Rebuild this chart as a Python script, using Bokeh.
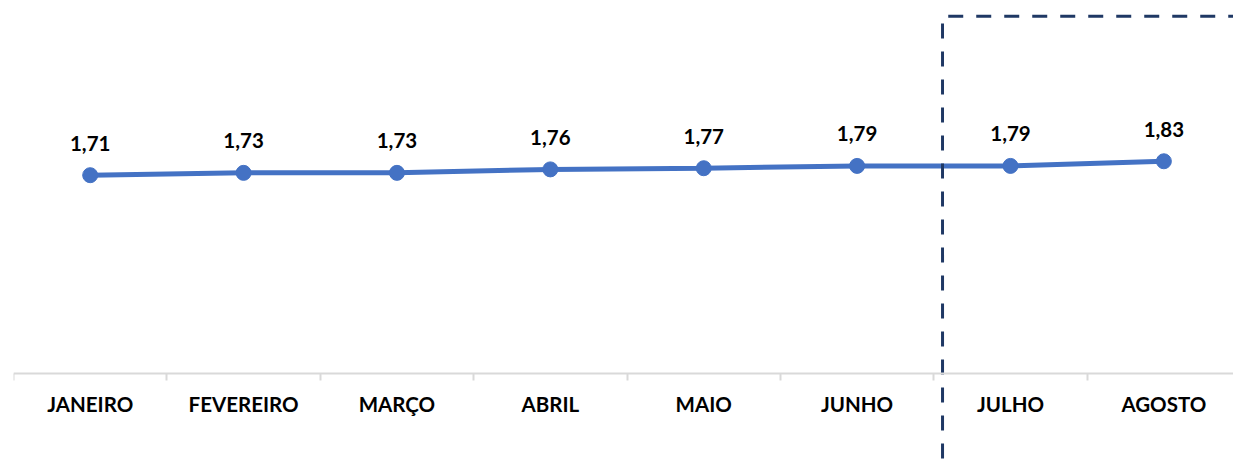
from bokeh.plotting import figure
from bokeh.models import FixedTicker, Range1d
from bokeh.core.properties import value
from bokeh.embed import file_html
from bokeh.resources import INLINE

months = ["JANEIRO", "FEVEREIRO", "MARÇO", "ABRIL", "MAIO", "JUNHO", "JULHO", "AGOSTO"]
values = [1.71, 1.73, 1.73, 1.76, 1.77, 1.79, 1.79, 1.83]
labels = [f"{v:.2f}".replace(".", ",") for v in values]
xs = list(range(len(months)))

BLUE = "#4472C4"
NAVY = "#1F3864"
GRAY = "#D9D9D9"

y_lo, y_hi = -0.810, 3.147
p = figure(width=1233, height=467,
           x_range=Range1d(-0.5, 7.454), y_range=Range1d(y_lo, y_hi),
           output_backend="svg", toolbar_location=None,
           y_axis_location=None,
           min_border_left=13, min_border_right=0,
           min_border_top=8, min_border_bottom=0)
p.outline_line_color = None
p.xgrid.visible = False
p.ygrid.visible = False
p.background_fill_color = "white"
p.border_fill_color = "white"

p.line(xs, values, line_width=5, color=BLUE)
p.scatter(xs, values, size=15, color=BLUE)
p.text(xs, values, text=labels, text_align="center", text_baseline="alphabetic",
       y_offset=-32, text_font=value("Lato"), text_font_style="bold",
       text_font_size="20.5px", text_color="black")

# dashed highlight frame between JUNHO and JULHO
div_x = 5.557
top_y = 3.08
bottom_y = -0.733
p.line([div_x, div_x, 8.0], [bottom_y, top_y, top_y], line_color=NAVY, line_width=3,
       line_dash="15 13")

ax = p.xaxis[0]
ax.fixed_location = 0
ax.ticker = FixedTicker(ticks=xs, minor_ticks=[i - 0.5 for i in range(len(months) + 1)])
ax.major_label_overrides = {i: m for i, m in enumerate(months)}
ax.major_tick_line_color = None
ax.major_tick_out = 0
ax.major_tick_in = 0
ax.minor_tick_out = 7
ax.minor_tick_in = 0
ax.minor_tick_line_color = GRAY
ax.minor_tick_line_width = 2
ax.axis_line_color = GRAY
ax.axis_line_width = 2
ax.major_label_standoff = 11
ax.major_label_text_font = "Lato"
ax.major_label_text_font_style = "bold"
ax.major_label_text_font_size = "20.5px"
ax.major_label_text_color = "black"

open("out.html", "w").write(file_html(p, INLINE))
